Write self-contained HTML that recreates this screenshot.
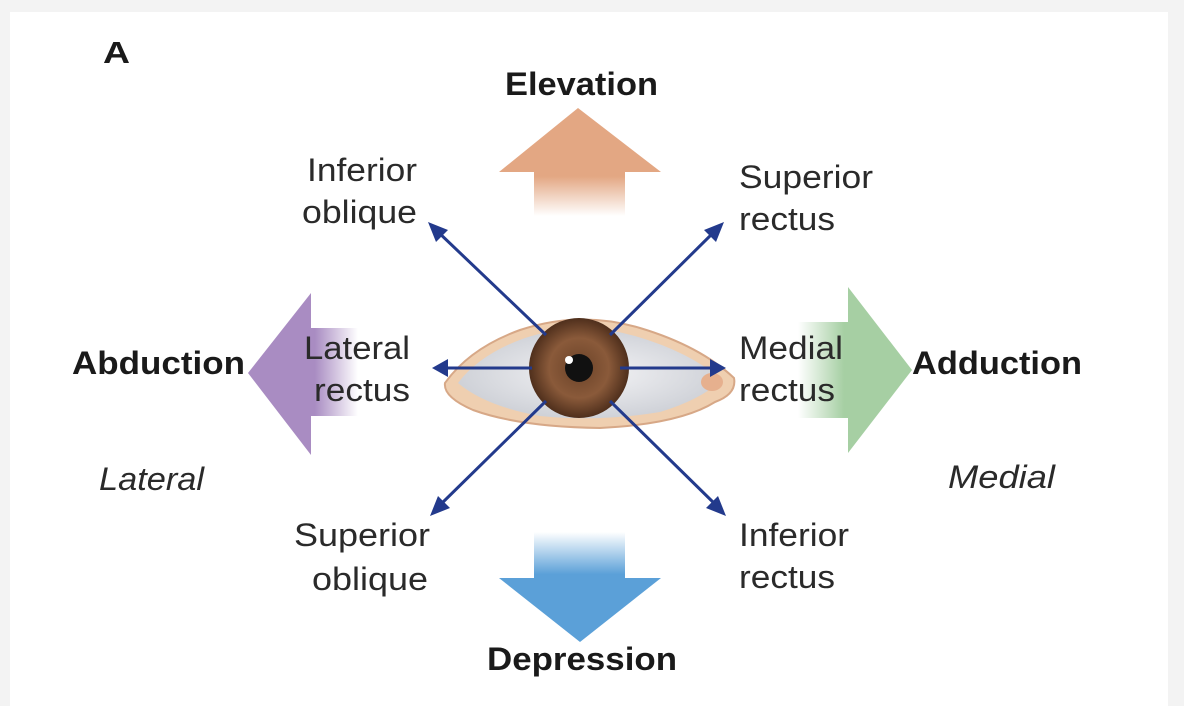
<!DOCTYPE html>
<html><head><meta charset="utf-8"><style>
html,body{margin:0;padding:0;background:#f3f3f3;width:1184px;height:706px;overflow:hidden}
svg{display:block}
</style></head><body>
<svg width="1184" height="706" viewBox="0 0 1184 706" xmlns="http://www.w3.org/2000/svg" font-family="Liberation Sans, sans-serif">
<defs>
<linearGradient id="gUp" x1="0" y1="1" x2="0" y2="0"><stop offset="0" stop-color="#e3a783" stop-opacity="0"/><stop offset="0.9" stop-color="#e3a783"/></linearGradient>
<linearGradient id="gDn" x1="0" y1="0" x2="0" y2="1"><stop offset="0" stop-color="#5ba0d8" stop-opacity="0"/><stop offset="0.9" stop-color="#5ba0d8"/></linearGradient>
<linearGradient id="gL" x1="1" y1="0" x2="0" y2="0"><stop offset="0" stop-color="#a98cc2" stop-opacity="0"/><stop offset="0.9" stop-color="#a98cc2"/></linearGradient>
<linearGradient id="gR" x1="0" y1="0" x2="1" y2="0"><stop offset="0" stop-color="#a6cfa3" stop-opacity="0"/><stop offset="0.9" stop-color="#a6cfa3"/></linearGradient>
<radialGradient id="iris" cx="0.5" cy="0.5" r="0.5"><stop offset="0" stop-color="#6a4228"/><stop offset="0.6" stop-color="#8a5a3a"/><stop offset="1" stop-color="#4f2f1c"/></radialGradient>
<radialGradient id="white" cx="0.5" cy="0.5" r="0.6"><stop offset="0" stop-color="#f4f4f6"/><stop offset="1" stop-color="#c8cbd2"/></radialGradient>
</defs>
<rect x="10" y="12" width="1158" height="700" fill="#fff"/>
<text x="103" y="63" font-size="31" font-weight="bold" fill="#1a1a1a" textLength="27" lengthAdjust="spacingAndGlyphs">A</text>

<rect x="534" y="172" width="91" height="44" fill="url(#gUp)"/>
<polygon points="578,108 661,172 499,172" fill="#e3a783"/>
<rect x="534" y="532" width="91" height="47" fill="url(#gDn)"/>
<polygon points="499,578 661,578 580,642" fill="#5ba0d8"/>
<rect x="310" y="328" width="48" height="88" fill="url(#gL)"/>
<polygon points="248,373 311,293 311,455" fill="#a98cc2"/>
<rect x="798" y="322" width="51" height="96" fill="url(#gR)"/>
<polygon points="848,287 912,370 848,453" fill="#a6cfa3"/>

<path d="M445,383 Q470,348 520,330 Q580,310 640,328 Q700,346 734,378 Q737,394 715,402 Q680,424 600,428 Q520,427 473,410 Q443,397 445,383 Z" fill="#efcfb0" stroke="#d7a887" stroke-width="2"/>
<path d="M458,383 Q480,354 525,338 Q580,320 635,336 Q690,352 722,380 Q700,400 660,412 Q600,422 540,416 Q485,406 458,383 Z" fill="url(#white)"/>
<ellipse cx="712" cy="382" rx="11" ry="9" fill="#e6b08e"/>
<circle cx="579" cy="368" r="50" fill="url(#iris)"/>
<circle cx="579" cy="368" r="14" fill="#111"/>
<circle cx="569" cy="360" r="4" fill="#fff"/>

<g stroke="#233a8c" stroke-width="3" fill="none">
<line x1="546" y1="335" x2="436" y2="230"/>
<line x1="610" y1="335" x2="716" y2="230"/>
<line x1="532" y1="368" x2="444" y2="368"/>
<line x1="620" y1="368" x2="714" y2="368"/>
<line x1="546" y1="401" x2="438" y2="507"/>
<line x1="610" y1="401" x2="718" y2="507"/>
</g>
<g fill="#233a8c">
<polygon points="428,222 448,230 436,242"/>
<polygon points="724,222 716,242 704,230"/>
<polygon points="432,368 448,359 448,377"/>
<polygon points="726,368 710,359 710,377"/>
<polygon points="430,516 438,496 450,508"/>
<polygon points="726,516 706,508 718,496"/>
</g>

<g font-size="32" fill="#2a2a2a" lengthAdjust="spacingAndGlyphs">
<text x="307" y="181" textLength="110" lengthAdjust="spacingAndGlyphs">Inferior</text>
<text x="302" y="223" textLength="115" lengthAdjust="spacingAndGlyphs">oblique</text>
<text x="739" y="188" textLength="134" lengthAdjust="spacingAndGlyphs">Superior</text>
<text x="739" y="230" textLength="96" lengthAdjust="spacingAndGlyphs">rectus</text>
<text x="304" y="359" textLength="106" lengthAdjust="spacingAndGlyphs">Lateral</text>
<text x="314" y="401" textLength="96" lengthAdjust="spacingAndGlyphs">rectus</text>
<text x="739" y="359" textLength="104" lengthAdjust="spacingAndGlyphs">Medial</text>
<text x="739" y="401" textLength="96" lengthAdjust="spacingAndGlyphs">rectus</text>
<text x="294" y="546" textLength="136" lengthAdjust="spacingAndGlyphs">Superior</text>
<text x="312" y="590" textLength="116" lengthAdjust="spacingAndGlyphs">oblique</text>
<text x="739" y="546" textLength="110" lengthAdjust="spacingAndGlyphs">Inferior</text>
<text x="739" y="588" textLength="96" lengthAdjust="spacingAndGlyphs">rectus</text>
</g>
<g font-size="32" font-weight="bold" fill="#1a1a1a">
<text x="505" y="95" textLength="153" lengthAdjust="spacingAndGlyphs">Elevation</text>
<text x="487" y="670" textLength="190" lengthAdjust="spacingAndGlyphs">Depression</text>
<text x="72" y="374" textLength="173" lengthAdjust="spacingAndGlyphs">Abduction</text>
<text x="912" y="374" textLength="170" lengthAdjust="spacingAndGlyphs">Adduction</text>
</g>
<g font-size="32" font-style="italic" fill="#2a2a2a">
<text x="99" y="490" textLength="105" lengthAdjust="spacingAndGlyphs">Lateral</text>
<text x="948" y="488" textLength="107" lengthAdjust="spacingAndGlyphs">Medial</text>
</g>
</svg>
</body></html>
